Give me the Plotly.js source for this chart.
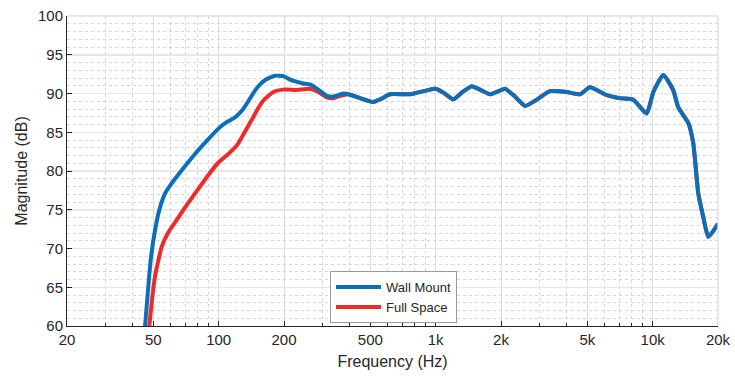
<!DOCTYPE html>
<html>
<head>
<meta charset="utf-8">
<script src="https://cdn.plot.ly/plotly-3.0.1.min.js"></script>
<style>html,body{margin:0;padding:0;background:#fff;}#chart{width:735px;height:376px;}</style>
</head>
<body>
<div id="chart"></div>
<script>
// Wall Mount (blue)
const wallFreq = [44, 45.8, 48.6, 51, 53.3, 56.6, 60.7, 67.6, 77.8, 89.6, 100, 108.9, 117, 121, 128, 137, 144, 152, 165, 182, 200, 213, 230, 245, 268, 288, 315, 337, 375, 396, 448, 516, 560, 616, 761, 909, 1000, 1100, 1206, 1330, 1466, 1600, 1779, 1950, 2087, 2280, 2580, 2921, 3364, 4016, 4624, 5141, 6140, 7063, 8144, 9385, 10070, 11200, 12446, 13124, 14600, 15380, 16226, 17100, 18040, 20000];
const wallDb = [54, 60, 68.5, 72.5, 75, 77.1, 78.4, 80.1, 82.2, 84.1, 85.5, 86.3, 86.8, 87.1, 87.8, 89.0, 90.0, 90.9, 91.8, 92.3, 92.2, 91.8, 91.5, 91.3, 91.1, 90.5, 89.7, 89.6, 90.0, 89.9, 89.4, 88.9, 89.3, 89.9, 89.9, 90.4, 90.6, 90.0, 89.25, 90.2, 90.95, 90.5, 89.9, 90.3, 90.6, 89.8, 88.4, 89.2, 90.3, 90.2, 89.9, 90.8, 89.8, 89.4, 89.2, 87.4, 90.2, 92.4, 90.4, 88.2, 86.2, 83.6, 77.1, 74.1, 71.5, 73.2];

// Full Space (red)
const fullFreq = [46, 47.9, 50.9, 54.6, 58.6, 64.1, 70, 77.8, 88.6, 99, 112.8, 122, 134.7, 144, 152, 160.6, 178.6, 198.5, 228.9, 263.6, 288, 315, 337, 375, 396, 448, 516, 560, 616, 761, 909, 1000, 1100, 1206, 1330, 1466, 1600, 1779, 1950, 2087, 2280, 2580, 2921, 3364, 4016, 4624, 5141, 6140, 7063, 8144, 9385, 10070, 11200, 12446, 13124, 14600, 15380, 16226, 17100, 18040, 20000];
const fullDb = [54, 60, 66.4, 70.2, 72.1, 73.7, 75.3, 77.1, 79.3, 81.0, 82.4, 83.4, 85.5, 86.9, 88.1, 89.1, 90.2, 90.5, 90.45, 90.6, 90.2, 89.5, 89.4, 89.8, 89.9, 89.4, 88.9, 89.3, 89.9, 89.9, 90.4, 90.6, 90.0, 89.25, 90.2, 90.95, 90.5, 89.9, 90.3, 90.6, 89.8, 88.4, 89.2, 90.3, 90.2, 89.9, 90.8, 89.8, 89.4, 89.2, 87.4, 90.2, 92.4, 90.4, 88.2, 86.2, 83.6, 77.1, 74.1, 71.5, 73.2];

const xTickVals = [20, 50, 100, 200, 500, 1000, 2000, 5000, 10000, 20000];
const xTickText = ['20', '50', '100', '200', '500', '1k', '2k', '5k', '10k', '20k'];
const xMinorVals = [30, 40, 60, 70, 80, 90, 300, 400, 600, 700, 800, 900, 3000, 4000, 6000, 7000, 8000, 9000];
const yTickVals = [60, 65, 70, 75, 80, 85, 90, 95, 100];

const txt = '#262626';
const traces = [
  {x: fullFreq, y: fullDb, name: 'Full Space', mode: 'lines', type: 'scatter',
   line: {color: '#EE2B2B', width: 4, shape: 'spline', smoothing: 0.5}, legendrank: 2},
  {x: wallFreq, y: wallDb, name: 'Wall Mount', mode: 'lines', type: 'scatter',
   line: {color: '#0A6FB8', width: 4, shape: 'spline', smoothing: 0.5}, legendrank: 1}
];

const layout = {
  width: 735, height: 376,
  margin: {l: 67, r: 17, t: 16, b: 50},
  paper_bgcolor: '#ffffff', plot_bgcolor: '#ffffff',
  font: {family: 'Arial, "Liberation Sans", sans-serif', color: txt, size: 15},
  showlegend: true,
  legend: {
    x: 0.404, y: 0.177, xanchor: 'left', yanchor: 'top',
    bgcolor: '#ffffff', bordercolor: '#9a9a9a', borderwidth: 1,
    font: {size: 13, color: txt}, itemwidth: 45, tracegroupgap: 0
  },
  xaxis: {
    type: 'log', range: [Math.log10(20), Math.log10(20000)],
    tickmode: 'array', tickvals: xTickVals, ticktext: xTickText,
    ticks: 'inside', ticklen: 5, tickcolor: txt,
    showline: true, linecolor: txt, linewidth: 1, mirror: false,
    showgrid: true, gridcolor: '#dcdcdc', gridwidth: 1,
    zeroline: false,
    tickfont: {size: 15, color: txt},
    minor: {tickmode: 'array', tickvals: xMinorVals, ticks: 'inside', ticklen: 3, tickcolor: txt,
            showgrid: true, gridcolor: '#d6d6d6', griddash: 'dot', gridwidth: 1},
    title: {text: 'Frequency (Hz)', font: {size: 16, color: txt}, standoff: 8}
  },
  yaxis: {
    range: [60, 100],
    tickmode: 'array', tickvals: yTickVals,
    ticks: 'inside', ticklen: 5, tickcolor: txt,
    showline: true, linecolor: txt, linewidth: 1, mirror: false,
    showgrid: true, gridcolor: '#e6e6e6', gridwidth: 1.5,
    zeroline: false,
    tickfont: {size: 15, color: txt},
    minor: {dtick: 1, ticks: '', showgrid: true, gridcolor: '#d6d6d6', griddash: 'dot', gridwidth: 1},
    title: {text: 'Magnitude (dB)', font: {size: 16, color: txt}, standoff: 6}
  },
  shapes: [
    {type: 'line', xref: 'paper', yref: 'paper', x0: 0, x1: 1, y0: 1, y1: 1, line: {color: '#e0e0e0', width: 1.5}},
    {type: 'line', xref: 'paper', yref: 'paper', x0: 1, x1: 1, y0: 0, y1: 1, line: {color: '#e0e0e0', width: 1.5}}
  ]
};

Plotly.newPlot('chart', traces, layout, {displayModeBar: false, staticPlot: true});
</script>
</body>
</html>
